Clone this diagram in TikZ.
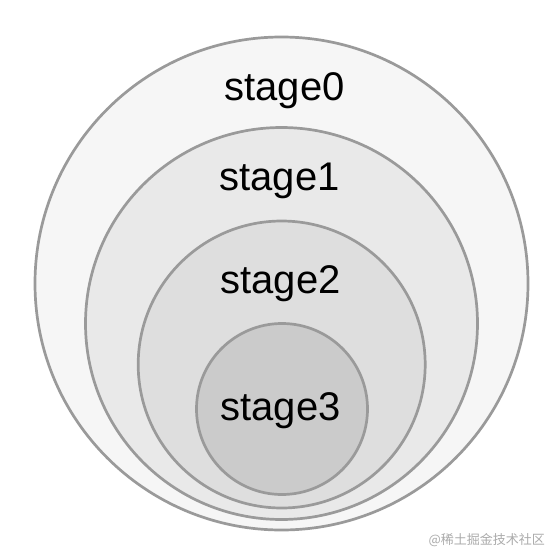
\documentclass[tikz,border=0pt]{standalone}
\usepackage{fontspec}
\setmainfont{Liberation Sans}
\newfontfamily\cjk{Noto Sans CJK SC}
\definecolor{ringgray}{HTML}{9A9A9A}
\definecolor{fillA}{HTML}{F6F6F6}
\definecolor{fillB}{HTML}{E9E9E9}
\definecolor{fillC}{HTML}{DEDEDE}
\definecolor{fillD}{HTML}{CBCBCB}
\definecolor{wmgray}{HTML}{ABABAB}
\begin{document}
\begin{tikzpicture}[x=1pt,y=-1pt,
  ring/.style={draw=ringgray, line width=2.7pt},
  lbl/.style={font=\fontsize{40}{40}\selectfont, anchor=base, inner sep=0pt, text=black}]
\useasboundingbox (0,0) rectangle (560,560);
\fill[white] (0,0) rectangle (560,560);
\filldraw[ring, fill=fillA] (281.5,283.5) circle[radius=246.5];
\filldraw[ring, fill=fillB] (281.5,323.5) circle[radius=196];
\filldraw[ring, fill=fillC] (281.7,364.5) circle[radius=143.5];
\filldraw[ring, fill=fillD] (282,409) circle[radius=85.5];
\node[lbl] (s0) at (284.5,100) {stage0};
\node[lbl] (s1) at (279.5,190) {stage1};
\node[lbl] (s2) at (280.5,293.5) {stage2};
\node[lbl] (s3) at (280.5,420.5) {stage3};
\node[font=\cjk\fontsize{13}{13}\selectfont, text=wmgray, anchor=east, inner sep=0pt] (wm) at (545,540) {@稀土掘金技术社区};
\end{tikzpicture}
\end{document}
